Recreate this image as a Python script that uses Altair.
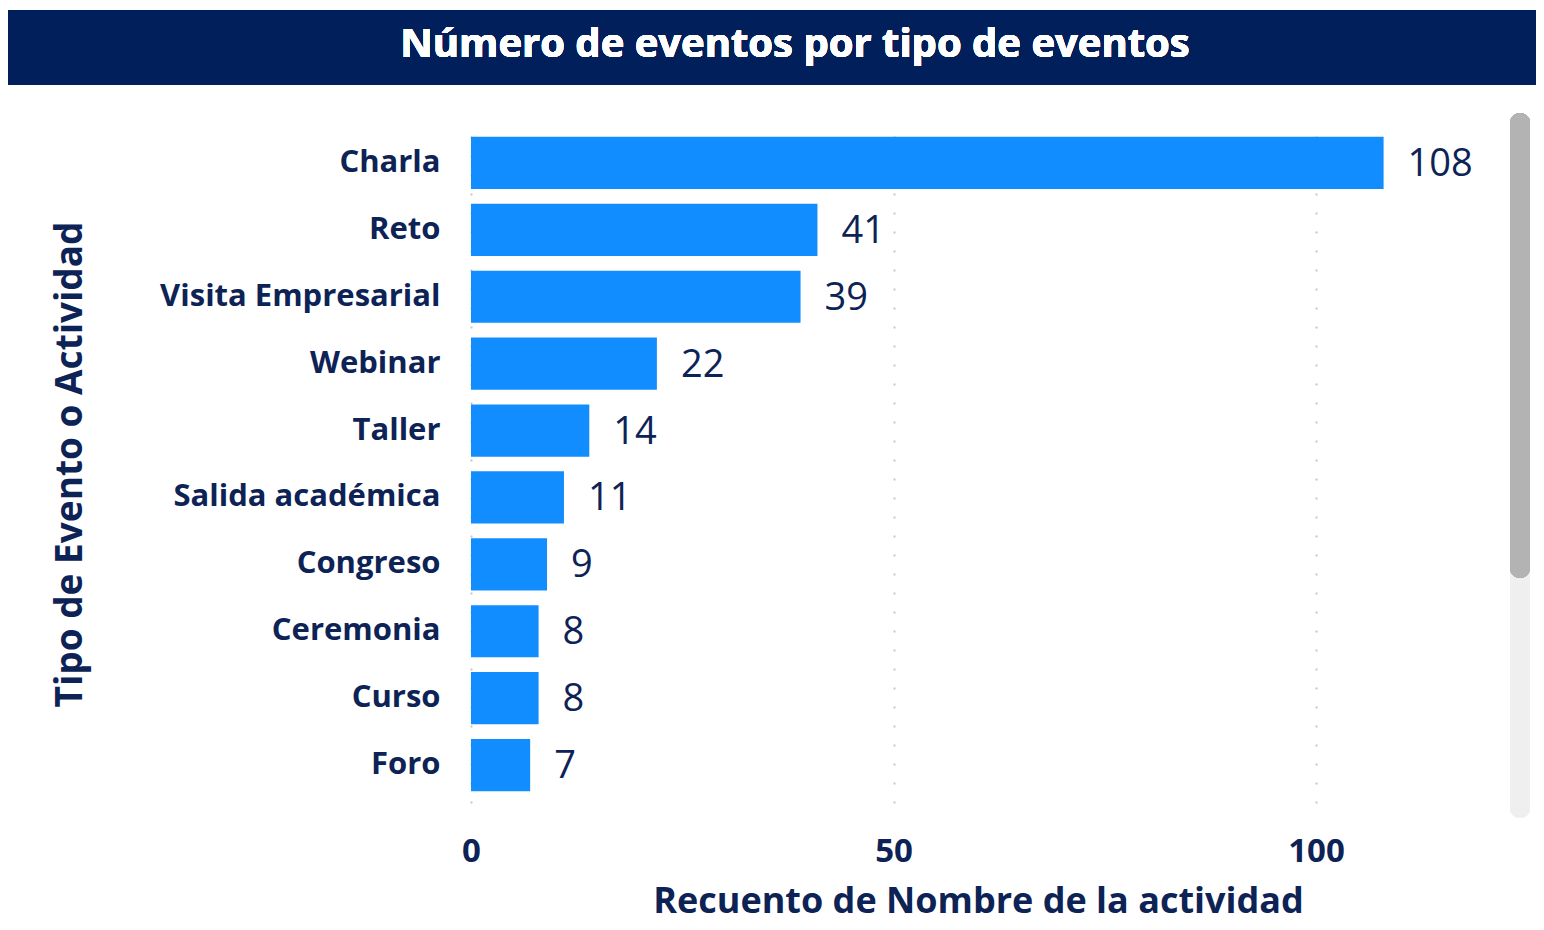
import altair as alt
import pandas as pd

categories = ["Charla", "Reto", "Visita Empresarial", "Webinar", "Taller",
              "Salida académica", "Congreso", "Ceremonia", "Curso", "Foro"]
counts = [108, 41, 39, 22, 14, 11, 9, 8, 8, 7]

df = pd.DataFrame({"cat": categories, "n": counts})

W, H = 1014, 678
NAVY = "#0d2356"
FONT = "Open Sans"

x = alt.X("n:Q", scale=alt.Scale(domain=[0, 120], nice=False),
          axis=alt.Axis(values=[0, 50, 100], title="Recuento de Nombre de la actividad",
                        labelFontSize=33, labelFontWeight="bold", labelColor=NAVY,
                        labelPadding=32, labelFont=FONT, labelFlush=False,
                        titleFontSize=36, titleFontWeight="bold", titleColor=NAVY, titleFont=FONT,
                        titleY=98, titleBaseline="middle",
                        grid=True, gridColor="#c8c6c4", gridDash=[2, 17], gridWidth=2,
                        domain=False, ticks=False))
y = alt.Y("cat:N", sort=categories,
          scale=alt.Scale(paddingInner=0.22, paddingOuter=0.177),
          axis=alt.Axis(title="Tipo de Evento o Actividad", labelFontSize=31,
                        labelFontWeight="bold", labelColor=NAVY, labelFont=FONT,
                        labelPadding=31, labelLimit=420,
                        titleFontSize=37, titleFontWeight="bold", titleColor=NAVY, titleFont=FONT,
                        titleX=-401, titleY=H / 2, titleBaseline="middle", titleAngle=-90,
                        domain=False, ticks=False, grid=False))

bars = alt.Chart(df).mark_bar(color="#118DFF").encode(x=x, y=y)
labels = alt.Chart(df).mark_text(align="left", baseline="middle", dx=24, dy=2,
                                 fontSize=38, font=FONT, color=NAVY).encode(
    x="n:Q", y=alt.Y("cat:N", sort=categories), text="n:Q")

title_bar = alt.Chart(df).mark_rect(color="#001f5b").encode(
    x=alt.value(-471), x2=alt.value(1073), y=alt.value(-115), y2=alt.value(-40))
title_text = alt.Chart(df).mark_text(text="Número de eventos por tipo de eventos",
                                     fontSize=40, fontWeight="bold", font=FONT,
                                     color="white", align="center", baseline="middle").encode(
    x=alt.value(324), y=alt.value(-80))
track = alt.Chart(df).mark_rect(color="#efefef", cornerRadius=10).encode(
    x=alt.value(1039), x2=alt.value(1059), y=alt.value(-12), y2=alt.value(693))
thumb = alt.Chart(df).mark_rect(color="#b3b3b3", cornerRadius=10).encode(
    x=alt.value(1039), x2=alt.value(1059), y=alt.value(-12), y2=alt.value(453))

chart = alt.layer(title_bar, title_text, track, thumb, bars, labels).properties(
    width=W, height=H,
    autosize=alt.AutoSizeParams(type="none"),
    padding={"left": 463, "top": 117, "right": 51, "bottom": 119},
).configure(background="white", view=alt.ViewConfig(stroke=None))

chart.save("out.html", embed_options={"renderer": "svg", "actions": False})
